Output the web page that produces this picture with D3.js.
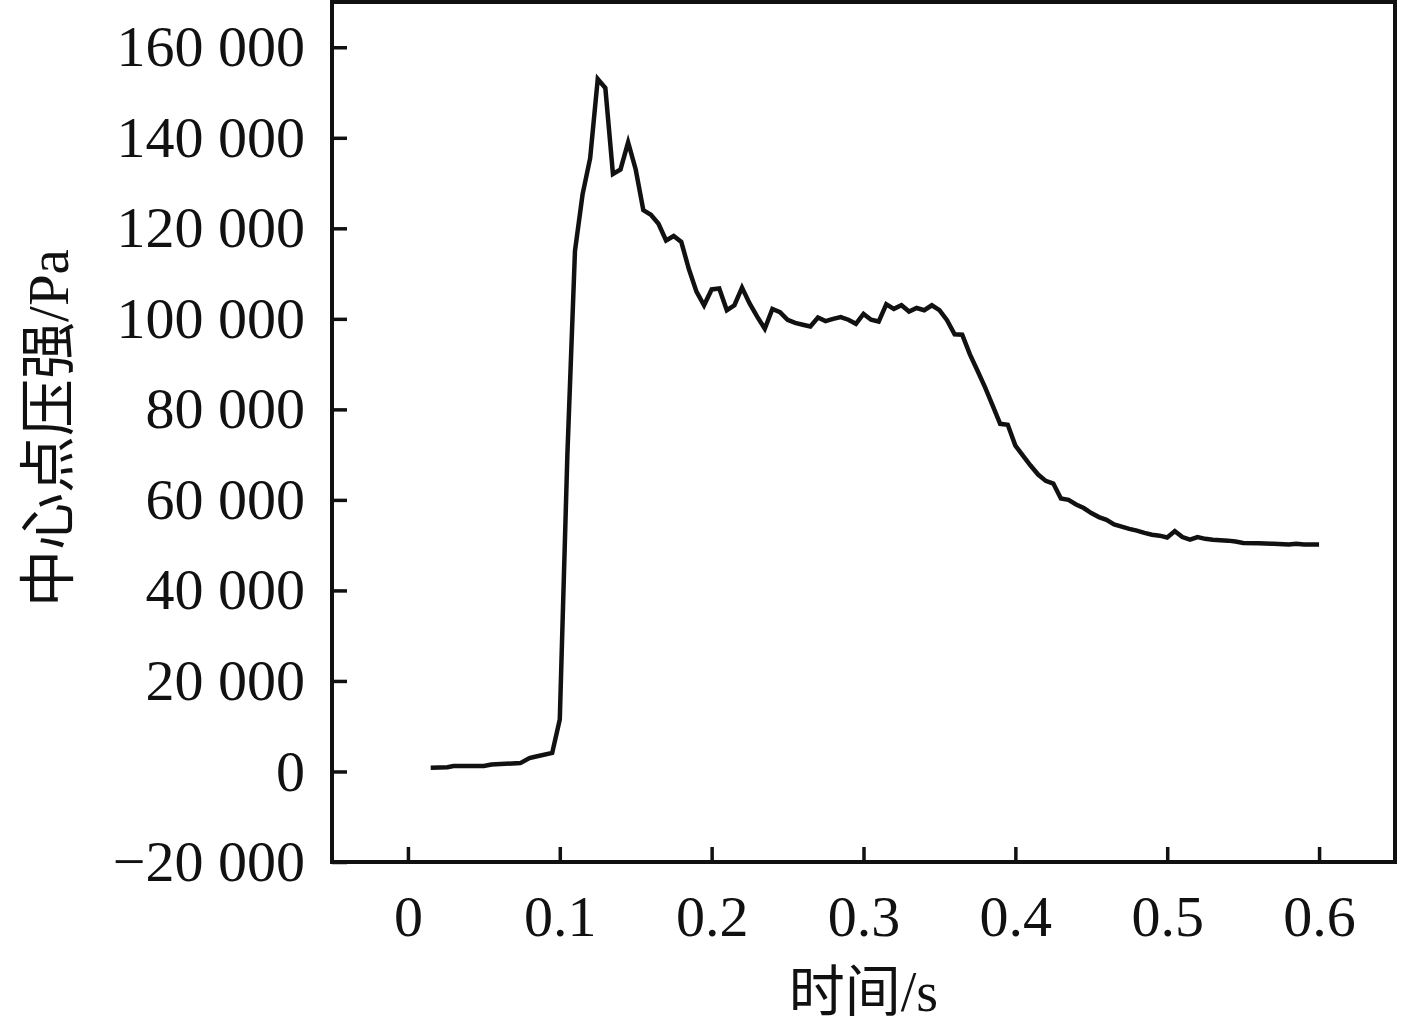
<!DOCTYPE html>
<html>
<head>
<meta charset="utf-8">
<script src="https://cdn.jsdelivr.net/npm/d3@7"></script>
<style>
  body { margin: 0; background: #fff; }
  text { font-family: "Liberation Serif", "Noto Sans CJK SC", serif; fill: #111; }
</style>
</head>
<body>
<div id="chart"></div>
<script>
// data
var times = [0.015, 0.026, 0.030, 0.050, 0.055, 0.074, 0.080, 0.083, 0.095, 0.100,
  0.105, 0.110, 0.115, 0.120, 0.125, 0.130, 0.135, 0.140, 0.145, 0.150,
  0.155, 0.160, 0.165, 0.170, 0.175, 0.180, 0.185, 0.190, 0.195, 0.200,
  0.205, 0.210, 0.215, 0.220, 0.225, 0.230, 0.235, 0.240, 0.245, 0.250,
  0.255, 0.260, 0.265, 0.270, 0.275, 0.280, 0.285, 0.290, 0.295, 0.300,
  0.305, 0.310, 0.315, 0.320, 0.325, 0.330, 0.335, 0.340, 0.345, 0.350,
  0.355, 0.360, 0.365, 0.370, 0.375, 0.380, 0.385, 0.390, 0.395, 0.400,
  0.405, 0.410, 0.415, 0.420, 0.425, 0.430, 0.435, 0.440, 0.445, 0.450,
  0.455, 0.460, 0.465, 0.470, 0.475, 0.480, 0.485, 0.490, 0.495, 0.500,
  0.505, 0.510, 0.515, 0.520, 0.525, 0.530, 0.540, 0.545, 0.550, 0.560,
  0.570, 0.580, 0.585, 0.590, 0.600];
var pressure = [850, 950, 1200, 1200, 1550, 1850, 2950, 3200, 4100, 11500,
  70000, 115000, 127500, 135500, 153000, 151000, 132000, 133000, 139000, 133000,
  124000, 123000, 121000, 117300, 118300, 117000, 111000, 106000, 103000, 106500,
  106700, 101900, 103000, 106900, 103400, 100500, 97800, 102200, 101500, 99800,
  99100, 98700, 98300, 100300, 99500, 100000, 100400, 99800, 98900, 101100,
  99800, 99400, 103200, 102200, 103000, 101600, 102400, 101900, 103000, 101900,
  99700, 96600, 96500, 92200, 88600, 84900, 80900, 76800, 76600, 72000,
  69800, 67600, 65600, 64200, 63600, 60300, 60000, 59000, 58200, 57100,
  56200, 55600, 54600, 54100, 53600, 53200, 52700, 52300, 52100, 51700,
  53100, 51800, 51200, 51800, 51400, 51200, 51000, 50800, 50500, 50400,
  50300, 50150, 50300, 50150, 50150];
var xTicks = [0, 0.1, 0.2, 0.3, 0.4, 0.5, 0.6];
var xTickLabels = ["0", "0.1", "0.2", "0.3", "0.4", "0.5", "0.6"];
var yTicks = [-20000, 0, 20000, 40000, 60000, 80000, 100000, 120000, 140000, 160000];
var yTickLabels = ["\u221220 000", "0", "20 000", "40 000", "60 000", "80 000",
  "100 000", "120 000", "140 000", "160 000"];
var xTitle = "时间/s";
var yTitle = "中心点压强/Pa";

var width = 1417, height = 1032;
var margin = {top: 2, right: 22, bottom: 170, left: 332};
var w = width - margin.left - margin.right;
var h = height - margin.top - margin.bottom;

var svg = d3.select("#chart")
    .append("svg")
    .attr("width", width)
    .attr("height", height);

var g = svg.append("g")
    .attr("transform", "translate(" + margin.left + "," + margin.top + ")");

var x = d3.scaleLinear().domain([-0.05, 0.65]).range([0, w]);
var y = d3.scaleLinear().domain([-20000, 170000]).range([h, 0]);

// x axis, ticks pointing in
var xAxis = g.append("g")
    .attr("transform", "translate(0," + h + ")")
    .call(d3.axisBottom(x)
        .tickValues(xTicks)
        .tickFormat(function(d, i){ return xTickLabels[i]; })
        .tickSizeInner(-15)
        .tickSizeOuter(0)
        .tickPadding(33));
xAxis.select(".domain").remove();
xAxis.selectAll("line").attr("stroke", "#111").attr("stroke-width", 3.5);
xAxis.selectAll("text")
    .attr("font-size", "58px")
    .attr("font-family", "Liberation Serif")
    .attr("fill", "#111");

// y axis
var yAxis = g.append("g")
    .call(d3.axisLeft(y)
        .tickValues(yTicks)
        .tickFormat(function(d, i){ return yTickLabels[i]; })
        .tickSizeInner(-15)
        .tickSizeOuter(0)
        .tickPadding(27));
yAxis.select(".domain").remove();
yAxis.selectAll("line").attr("stroke", "#111").attr("stroke-width", 3.5);
yAxis.selectAll("text")
    .attr("font-size", "58px")
    .attr("font-family", "Liberation Serif")
    .attr("fill", "#111");

// frame
g.append("rect")
    .attr("x", 0)
    .attr("y", 0)
    .attr("width", w)
    .attr("height", h)
    .attr("fill", "none")
    .attr("stroke", "#111")
    .attr("stroke-width", 4);

// the curve
var pts = times.map(function(t, i){ return [t, pressure[i]]; });
var line = d3.line()
    .x(function(d){ return x(d[0]); })
    .y(function(d){ return y(d[1]); });

g.append("path")
    .datum(pts)
    .attr("d", line)
    .attr("fill", "none")
    .attr("stroke", "#111")
    .attr("stroke-width", 4.5)
    .attr("stroke-linejoin", "miter");

// titles
svg.append("text")
    .text(xTitle)
    .attr("x", margin.left + x(0.3))
    .attr("y", 1011)
    .attr("text-anchor", "middle")
    .attr("font-size", "56px");

svg.append("text")
    .text(yTitle)
    .attr("transform", "translate(68,428) rotate(-90)")
    .attr("text-anchor", "middle")
    .attr("font-size", "57px");
</script>
</body>
</html>
